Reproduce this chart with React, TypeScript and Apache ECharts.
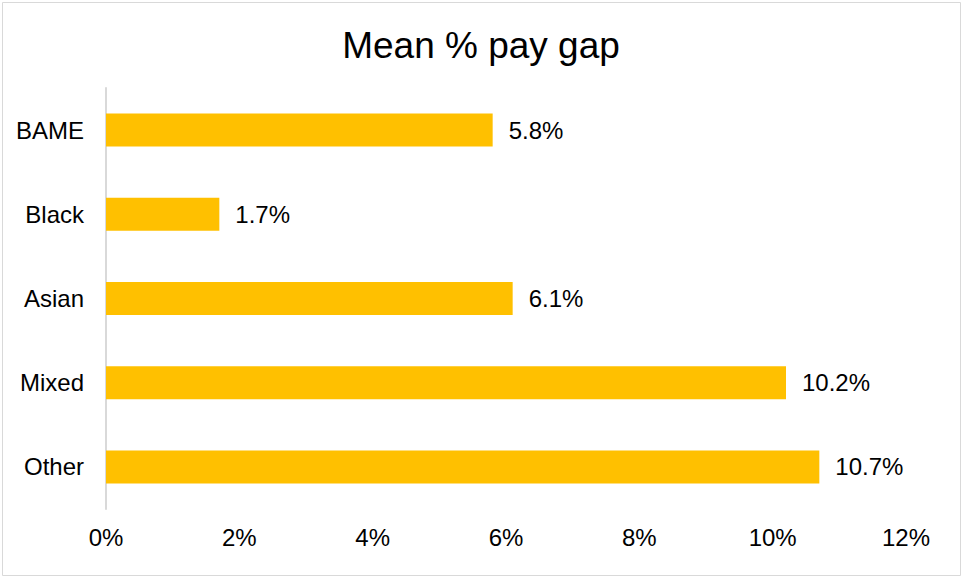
import React, { useEffect, useRef } from "react";
import * as echarts from "echarts";

const categories = ["BAME", "Black", "Asian", "Mixed", "Other"];
const values = [5.8, 1.7, 6.1, 10.2, 10.7];
const xTicks = [0, 2, 4, 6, 8, 10, 12];

export default function App() {
  const ref = useRef<HTMLDivElement>(null);
  useEffect(() => {
    document.body.style.margin = "0";
    const chart = echarts.init(ref.current!, null, { renderer: "svg" });
    chart.setOption({
      animation: false,
      backgroundColor: "#ffffff",
      textStyle: { fontFamily: "Liberation Sans, Arial, sans-serif" },
      title: {
        text: "Mean % pay gap",
        left: "center",
        top: 22,
        textStyle: { fontSize: 37, fontWeight: "normal", color: "#000", fontFamily: "Liberation Sans, Arial, sans-serif" },
      },
      graphic: [
        {
          type: "rect",
          shape: { x: 2.5, y: 2.5, width: 958, height: 573 },
          style: { fill: "none", stroke: "#d9d9d9", lineWidth: 1 },
          silent: true,
        },
      ],
      grid: { left: 106, right: 56, top: 88, bottom: 68, containLabel: false },
      xAxis: {
        type: "value",
        min: xTicks[0],
        max: xTicks[xTicks.length - 1],
        interval: 2,
        axisLine: { show: false },
        axisTick: { show: false },
        splitLine: { show: false },
        axisLabel: { formatter: "{value}%", fontSize: 24, color: "#000", margin: 16 },
      },
      yAxis: {
        type: "category",
        data: categories,
        inverse: true,
        axisLine: { show: true, lineStyle: { color: "#d9d9d9", width: 2 } },
        axisTick: { show: false },
        axisLabel: { fontSize: 24, color: "#000", margin: 22 },
      },
      series: [
        {
          type: "bar",
          data: values,
          barWidth: 33,
          itemStyle: { color: "#ffc000" },
          label: {
            show: true,
            position: "right",
            distance: 16,
            formatter: (p: any) => p.value.toFixed(1) + "%",
            fontSize: 24,
            color: "#000",
          },
        },
      ],
    });
    return () => chart.dispose();
  }, []);
  return <div ref={ref} style={{ width: 962, height: 577, position: "absolute", left: 0, top: 0 }} />;
}
